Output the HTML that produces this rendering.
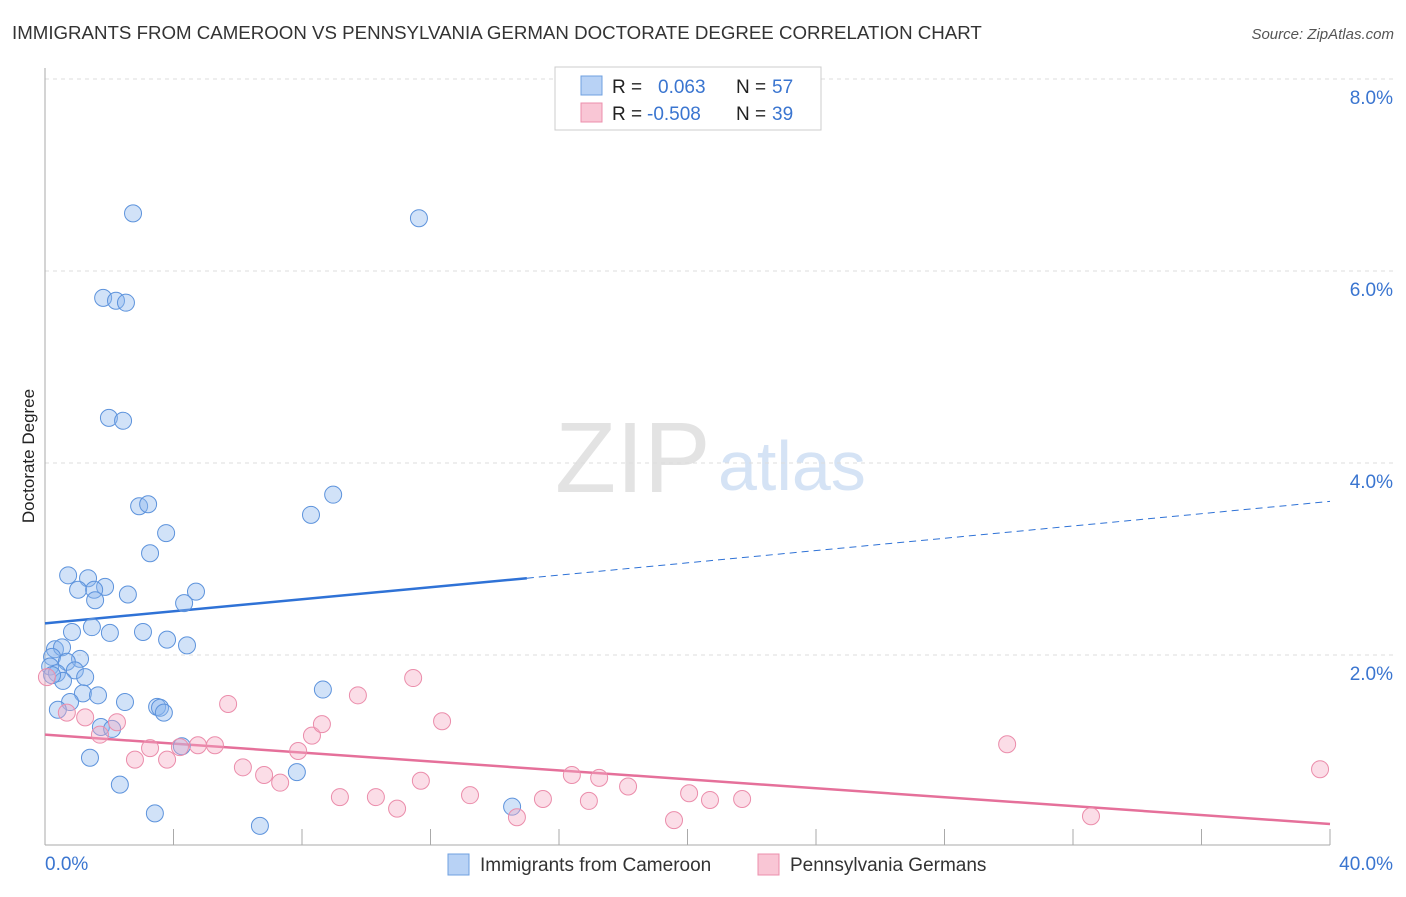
<!DOCTYPE html>
<html><head><meta charset="utf-8"><style>
body{margin:0;background:#fff;font-family:"Liberation Sans",sans-serif;}
svg text{font-family:"Liberation Sans",sans-serif;}
</style></head><body>
<svg id="chart" width="1406" height="892" xmlns="http://www.w3.org/2000/svg">
<text x="12" y="39" font-size="18.7" fill="#333">IMMIGRANTS FROM CAMEROON VS PENNSYLVANIA GERMAN DOCTORATE DEGREE CORRELATION CHART</text>
<text x="1394" y="39" font-size="15" fill="#555" font-style="italic" text-anchor="end">Source: ZipAtlas.com</text>
<text x="34" y="456" font-size="17" fill="#222" text-anchor="middle" transform="rotate(-90 34 456)">Doctorate Degree</text>
<text x="555" y="492" font-size="100" fill="#e3e3e3" font-family="Liberation Serif">ZIP</text>
<text x="718" y="490" font-size="70" fill="#d5e3f5">atlas</text>
<g id="grid"></g><g id="axes"></g><g id="lines"></g><g id="pts"></g>
<g>
<rect x="555" y="67" width="266" height="63" fill="#fff" stroke="#ccc"/>
<rect x="581" y="76" width="21" height="19" fill="#b8d2f5" stroke="#6fa0e0"/>
<rect x="581" y="103" width="21" height="19" fill="#f9c6d5" stroke="#ec8fac"/>
<text x="612" y="93" font-size="19" fill="#222">R = </text><text x="658" y="93" font-size="19" fill="#3a75d0">0.063</text>
<text x="736" y="93" font-size="19" fill="#222">N = </text><text x="772" y="93" font-size="19" fill="#3a75d0">57</text>
<text x="612" y="120" font-size="19" fill="#222">R = </text><text x="647" y="120" font-size="19" fill="#3a75d0">-0.508</text>
<text x="736" y="120" font-size="19" fill="#222">N = </text><text x="772" y="120" font-size="19" fill="#3a75d0">39</text>
</g>
<g>
<rect x="448" y="854" width="21" height="21" fill="#b8d2f5" stroke="#6fa0e0"/>
<text x="480" y="871" font-size="19" fill="#333">Immigrants from Cameroon</text>
<rect x="758" y="854" width="21" height="21" fill="#f9c6d5" stroke="#ec8fac"/>
<text x="790" y="871" font-size="19" fill="#333">Pennsylvania Germans</text>
</g>
</svg>
<script>
const blueX=[2.74,11.64,1.81,2.21,2.52,1.99,2.43,2.93,3.21,8.97,8.28,3.77,3.27,0.72,1.34,1.87,1.03,1.53,1.56,2.58,4.70,4.33,1.46,0.84,2.02,3.05,3.80,4.42,0.31,0.53,0.22,1.09,0.68,0.16,0.37,0.93,1.25,0.56,1.18,1.65,2.49,0.78,0.40,3.49,3.58,3.70,1.74,2.09,4.26,8.65,1.40,2.33,7.84,3.42,6.69,14.54,0.22];
const blueY=[6.60,6.55,5.72,5.69,5.67,4.47,4.44,3.55,3.57,3.67,3.46,3.27,3.06,2.83,2.80,2.71,2.68,2.68,2.57,2.63,2.66,2.54,2.29,2.24,2.23,2.24,2.16,2.10,2.06,2.08,1.98,1.96,1.93,1.88,1.81,1.84,1.77,1.73,1.60,1.58,1.51,1.51,1.43,1.46,1.45,1.40,1.25,1.23,1.05,1.64,0.93,0.65,0.78,0.35,0.22,0.42,1.79];
const pinkX=[0.06,0.68,1.25,1.71,2.24,2.80,3.27,3.80,4.20,4.76,5.29,5.70,6.16,6.82,7.32,7.88,8.31,8.62,9.18,9.74,10.30,10.96,11.46,11.70,12.36,13.23,14.69,15.50,16.40,16.93,17.25,18.15,19.58,20.05,20.70,21.70,29.95,32.56,39.69];
const pinkY=[1.77,1.40,1.35,1.17,1.30,0.91,1.03,0.91,1.04,1.06,1.06,1.49,0.83,0.75,0.67,1.00,1.16,1.28,0.52,1.58,0.52,0.40,1.76,0.69,1.31,0.54,0.31,0.50,0.75,0.48,0.72,0.63,0.28,0.56,0.49,0.50,1.07,0.32,0.81];
const yTicks=[2,4,6,8];
const yTickLabels=["2.0%","4.0%","6.0%","8.0%"];
const blueTrend=[[0,2.33],[15,2.80],[40,3.60]];
const pinkTrend=[[0,1.17],[40,0.24]];
const NS="http://www.w3.org/2000/svg";
const X=v=>45+v/40*1285, Y=v=>847-v*96;
function mk(tag,attrs,parent){const e=document.createElementNS(NS,tag);for(const k in attrs)e.setAttribute(k,attrs[k]);document.getElementById(parent).appendChild(e);return e;}
yTicks.forEach((t,i)=>{
 const l=mk('line',{x1:45,x2:1394,y1:Y(t),y2:Y(t),stroke:'#ddd','stroke-dasharray':'4,4'},'grid');
 
 
 const tx=mk('text',{x:1393,y:Y(t)+25,'font-size':19,fill:'#3a75d0','text-anchor':'end'},'grid');
 tx.textContent=yTickLabels[i];
 
 
});
mk('line',{x1:45,x2:45,y1:68,y2:845,stroke:'#aaa'},'axes');
mk('line',{x1:45,x2:1330,y1:845,y2:845,stroke:'#aaa'},'axes');
for(let i=1;i<=10;i++){mk('line',{x1:X(i*4),x2:X(i*4),y1:829,y2:845,stroke:'#aaa'},'axes');}
const x0=mk('text',{x:45,y:870,'font-size':19,fill:'#3a75d0'},'axes');x0.textContent='0.0%';


const x1=mk('text',{x:1393,y:870,'font-size':19,fill:'#3a75d0','text-anchor':'end'},'axes');x1.textContent='40.0%';


const bl=mk('line',{x1:X(blueTrend[0][0]),y1:Y(blueTrend[0][1]),x2:X(blueTrend[1][0]),y2:Y(blueTrend[1][1]),stroke:'#2f72d6','stroke-width':2.5},'lines');


const bd=mk('line',{x1:X(blueTrend[1][0]),y1:Y(blueTrend[1][1]),x2:X(blueTrend[2][0]),y2:Y(blueTrend[2][1]),stroke:'#2f72d6','stroke-width':1,'stroke-dasharray':'7,5'},'lines');


const pl=mk('line',{x1:X(pinkTrend[0][0]),y1:Y(pinkTrend[0][1]),x2:X(pinkTrend[1][0]),y2:Y(pinkTrend[1][1]),stroke:'#e5709a','stroke-width':2.5},'lines');


blueX.forEach((v,i)=>{const c=mk('circle',{cx:X(v),cy:Y(blueY[i]),r:8.5,fill:'rgba(140,182,238,0.4)',stroke:'#5d93dc','stroke-width':1},'pts');
 
 });
pinkX.forEach((v,i)=>{const c=mk('circle',{cx:X(v),cy:Y(pinkY[i]),r:8.5,fill:'rgba(245,170,195,0.4)',stroke:'#eb8dab','stroke-width':1},'pts');
 
 });
</script>
</body></html>
